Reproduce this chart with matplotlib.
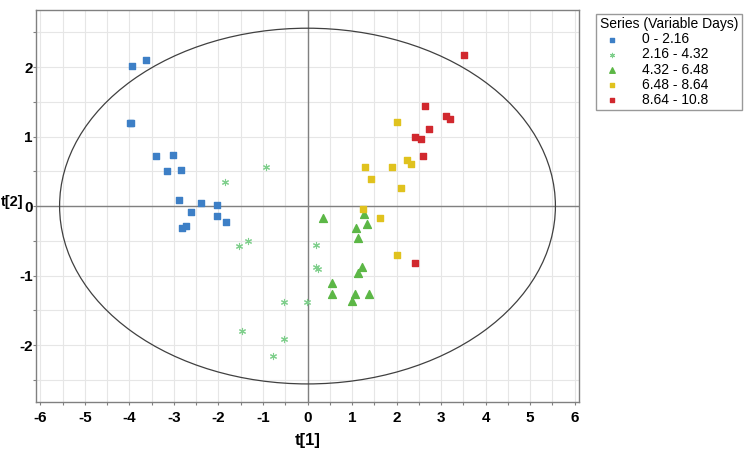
import numpy as np
import matplotlib
matplotlib.use("Agg")
import matplotlib.pyplot as plt
from matplotlib.patches import Ellipse
from matplotlib.ticker import MultipleLocator

# score values
blue_x = [-3.95, -3.62, -3.98, -3.96, -3.41, -3.02, -3.15, -2.84, -2.88, -2.39,
          -2.04, -2.61, -2.04, -1.82, -2.82, -2.73]
blue_y = [2.02, 2.10, 1.19, 1.20, 0.725, 0.74, 0.50, 0.52, 0.086, 0.04,
          0.015, -0.086, -0.144, -0.23, -0.31, -0.29]

star_x = [-1.86, -0.93, -1.53, -1.33, 0.20, 0.20, 0.23, -0.53, -0.02, -1.48, -0.53, -0.78]
star_y = [0.34, 0.56, -0.57, -0.50, -0.56, -0.88, -0.91, -1.38, -1.38, -1.80, -1.91, -2.16]

tri_x = [0.35, 1.26, 1.33, 1.09, 1.14, 1.23, 1.14, 0.55, 0.56, 1.06, 1.38, 1.00]
tri_y = [-0.17, -0.11, -0.26, -0.32, -0.455, -0.88, -0.96, -1.11, -1.27, -1.27, -1.26, -1.37]

yel_x = [2.00, 1.30, 1.90, 2.23, 2.33, 1.43, 2.11, 1.25, 1.63, 2.00]
yel_y = [1.21, 0.56, 0.56, 0.66, 0.60, 0.39, 0.255, -0.04, -0.17, -0.70]

red_x = [3.51, 2.64, 3.12, 3.20, 2.74, 2.41, 2.55, 2.59, 2.41]
red_y = [2.17, 1.44, 1.30, 1.25, 1.11, 1.00, 0.97, 0.715, -0.82]

labels = ["0 - 2.16", "2.16 - 4.32", "4.32 - 6.48", "6.48 - 8.64", "8.64 - 10.8"]

# Hotelling T2 ellipse half axes
ell_a = 5.57
ell_b = 2.56

plt.rcParams['font.family'] = ['Liberation Sans', 'DejaVu Sans']

fig = plt.figure(figsize=(7.5, 4.53), dpi=100)
ax = fig.add_axes([0.048, 0.1126, 0.724, 0.865])

ax.set_xlim(-6.1, 6.1)
ax.set_ylim(-2.82, 2.82)

ax.xaxis.set_major_locator(MultipleLocator(1))
ax.xaxis.set_minor_locator(MultipleLocator(0.5))
ax.yaxis.set_major_locator(MultipleLocator(1))
ax.yaxis.set_minor_locator(MultipleLocator(0.5))
ax.grid(True, which='both', color='#e6e6e6', linewidth=0.8)
ax.set_axisbelow(True)

ax.axhline(0, color='#808080', linewidth=1.0, zorder=1)
ax.axvline(0, color='#808080', linewidth=1.0, zorder=1)

ell = Ellipse((0, 0), 2 * ell_a, 2 * ell_b, fill=False, edgecolor='#404040', linewidth=0.9, zorder=2)
ax.add_patch(ell)

ax.scatter(blue_x, blue_y, marker='s', s=24, color='#3d7fc6', label=labels[0], zorder=3)
ax.scatter(star_x, star_y, marker=(6, 2, 0), s=20, color='#7fcf8c', linewidths=0.8, label=labels[1], zorder=3)
ax.scatter(tri_x, tri_y, marker='^', s=32, color='#5cb746', label=labels[2], zorder=3)
ax.scatter(yel_x, yel_y, marker='s', s=24, color='#e0c21e', label=labels[3], zorder=3)
ax.scatter(red_x, red_y, marker='s', s=24, color='#d1282e', label=labels[4], zorder=3)

for sp in ax.spines.values():
    sp.set_color('#808080')
    sp.set_linewidth(1.0)

ax.tick_params(which='both', direction='out', color='#808080', length=2.5, width=0.8)
ax.tick_params(axis='y', which='major', pad=0)
ax.tick_params(axis='x', which='major', pad=4)
ax.set_xticklabels([f"{int(v)}" for v in ax.get_xticks()], fontweight='bold', fontsize=11)
ax.set_yticklabels([f"{int(v)}" for v in ax.get_yticks()], fontweight='bold', fontsize=11)

fig.text(0.41, 0.028, "t[1]", fontsize=12, fontweight='bold', ha='center', va='center')
fig.text(0.001, 0.553, "t[2]", fontsize=10.5, fontweight='bold', ha='left', va='center')

leg = fig.legend(loc='upper left', bbox_to_anchor=(0.786, 0.985), title="Series (Variable Days)",
                 fontsize=10, title_fontsize=10, frameon=True, fancybox=False,
                 edgecolor='#808080', handletextpad=1.2, labelspacing=0.08,
                 borderpad=0.25, markerscale=0.7, handlelength=1.8)
leg._legend_box.align = "left"
leg.get_frame().set_linewidth(1.0)

fig.savefig("out.png", dpi=100)
